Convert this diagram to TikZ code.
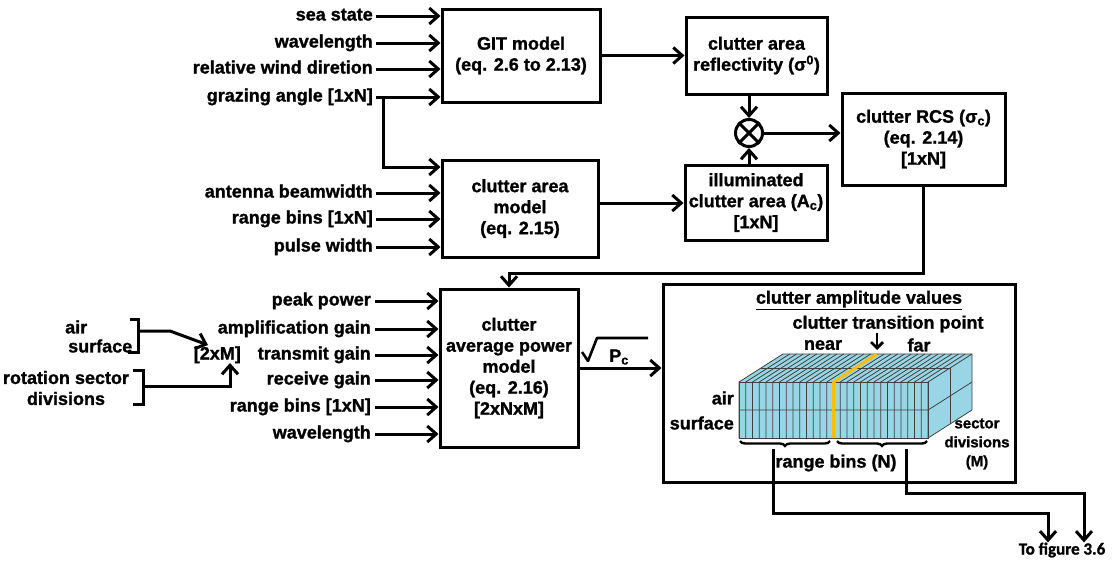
\documentclass[tikz,border=0pt]{standalone}
\usepackage{fontspec}
\setmainfont{Liberation Sans}[BoldFeatures={FakeBold=1.2}]
\newfontfamily\calib{Carlito}[BoldFeatures={FakeBold=1.2}]
\usetikzlibrary{arrows.meta,decorations.pathreplacing}
\definecolor{cubeblue}{RGB}{152,214,230}
\definecolor{transy}{RGB}{255,190,0}
\begin{document}
\begin{tikzpicture}[x=1pt,y=-1pt,
  every node/.style={font=\fontsize{18}{21}\selectfont\bfseries, inner sep=0pt},
  wire/.style={line width=3pt},
  arr/.style={wire,-{Straight Barb[length=9pt,width=16pt]}},
  blk/.style={draw, line width=3pt, align=center},
  inlab/.style={anchor=east, text height=13pt, text depth=4pt},
  gl/.style={draw=black!75, line width=0.8pt},
 ]
\useasboundingbox (0,0) rectangle (1115,563);

% ---------- boxes
\node[blk, minimum width=158pt, minimum height=93pt] (git) at (521,55.5) {GIT model\\(eq. 2.6 to 2.13)};
\node[blk, minimum width=141pt, minimum height=77pt] (refl) at (756.5,55.5) {clutter area\\reflectivity (σ\textsuperscript{0})};
\node[draw, circle, line width=3pt, minimum size=27pt] (mul) at (749,133) {};
\draw[wire] (mul.north west) -- (mul.south east) (mul.north east) -- (mul.south west);
\node[blk, minimum width=142pt, minimum height=75pt] (illum) at (756,202.5) {illuminated\\clutter area (A\textsubscript{c})\\{[1xN]}};
\node[blk, minimum width=156pt, minimum height=97pt] (cam) at (520,208.5) {clutter area\\model\\(eq. 2.15)};
\node[blk, minimum width=163pt, minimum height=92pt] (rcs) at (923.5,139) {clutter RCS (σ\textsubscript{c})\\(eq. 2.14)\\{[1xN]}};
\node[blk, minimum width=138pt, minimum height=158pt] (capm) at (509,368) {clutter\\average power\\model\\(eq. 2.16)\\{[2xNxM]}};
\node[draw, line width=3pt, minimum width=352pt, minimum height=198pt] (amp) at (839,383) {};

% ---------- top inputs
\node[inlab] (i1) at (373,16) {sea state};
\node[inlab] (i2) at (373,43) {wavelength};
\node[inlab] (i3) at (373,69) {relative wind diretion};
\node[inlab] (i4) at (373,97) {grazing angle [1xN]};
\node[inlab] (i5) at (373,193) {antenna beamwidth};
\node[inlab] (i6) at (373,219) {range bins [1xN]};
\node[inlab] (i7) at (373,247) {pulse width};
\foreach \n in {i1,i2,i3,i4} \draw[arr] ([xshift=3pt]\n.east) -- (git.west |- \n.east);
\foreach \n in {i5,i6,i7} \draw[arr] ([xshift=3pt]\n.east) -- (cam.west |- \n.east);
\coordinate (gbr) at (383,97);
\draw[arr] (gbr) |- (cam.west |- 0,167);

% ---------- connections top
\draw[arr] (git.east |- refl.west) -- (refl.west);
\draw[arr] (cam.east |- 0,203) -- (illum.west |- 0,203);
\draw[arr] (mul.north |- refl.south) -- (mul.north);
\draw[arr] (mul.south |- illum.north) -- (mul.south);
\draw[arr] (mul.east) -- (rcs.west |- mul.east);
\draw[arr] (rcs.south) -- ++(0,87) -| (capm.north);

% ---------- bottom inputs
\node[inlab] (j1) at (371,301) {peak power};
\node[inlab] (j2) at (371,329) {amplification gain};
\node[inlab] (j3) at (371,355) {transmit gain};
\node[inlab] (j4) at (371,380) {receive gain};
\node[inlab] (j5) at (371,407) {range bins [1xN]};
\node[inlab] (j6) at (371,434) {wavelength};
\foreach \n in {j1,j2,j3,j4,j5,j6} \draw[arr] ([xshift=4pt]\n.east) -- (capm.west |- \n.east);

\node[inlab] (twoxm) at (241,355) {[2xM]};
\node[anchor=west] (air1) at (65,327) {air};
\node[anchor=west] (surf1) at (68,346) {surface};
\draw[wire] (130,319) -- (138,319) -- (138,352) -- (128,352);
\coordinate (b1) at (138,331);
\coordinate (b1e) at (208,345);
\draw[arr] (b1) -- (170,331) -- (b1e);
\node[align=center] (rot) at (66,388) {rotation sector\\divisions};
\draw[wire] (133,370) -- (143,370) -- (143,404) -- (133,404);
\coordinate (b2) at (143,386);
\coordinate (b2e) at (230,363);
\draw[arr] (b2) -| (b2e);

% ---------- sqrt Pc
\draw[line width=2.6pt, line join=round] (582,352) -- (588,361) -- (597,338) -- (648,338);
\node (pc) at (619,357) {P\textsubscript{c}};
\draw[arr] (capm.east) -- (amp.west |- capm.east);

% ---------- amplitude box content
\node (ampt) at (859,300) {\underline{clutter amplitude values}};
\node (ctp) at (888,324) {clutter transition point};
\coordinate (ctpa) at (877,333);
\coordinate (ctpb) at (877,350);
\draw[line width=2.8pt, -{Straight Barb[length=6pt,width=12pt]}] (ctpa) -- (ctpb);
\node (near) at (823,345) {near};
\node (far) at (919,345) {far};

% block
\fill[cubeblue] (739,382) -- (928,382) -- (928,438) -- (739,438) -- cycle;
\fill[cubeblue] (739,382) -- (783,354) -- (972,354) -- (928,382) -- cycle;
\fill[cubeblue] (928,382) -- (972,354) -- (972,410) -- (928,438) -- cycle;
\foreach \i in {0,...,28} {
  \pgfmathsetmacro\xx{739+\i*189/28}
  \draw[gl] (\xx,438) -- (\xx,382) -- ++(44,-28);
}
\draw[gl] (739,410) -- (928,410) -- (972,382);
\draw[gl] (761,368) -- (950,368) -- (950,424);
\draw[gl] (739,382) -- (928,382) -- (928,438) -- (739,438) -- cycle;
\draw[gl] (783,354) -- (972,354) -- (972,410) -- (928,438);
\draw[transy, line width=3pt] (877,354) -- (833.5,382) -- (833.5,438);

\node[anchor=east] (airb) at (734,398) {air};
\node[anchor=east] (surfb) at (734,423) {surface};
\draw[line width=2.4pt, decorate, decoration={brace, mirror, amplitude=5pt}] (740,441) -- (830,441);
\draw[line width=2.4pt, decorate, decoration={brace, mirror, amplitude=5pt}] (837,441) -- (927,441);
\node (rb) at (836,463) {range bins (N)};
\node[align=center, font=\fontsize{15}{19}\selectfont\bfseries] (sd) at (977,444) {sector\\divisions\\(M)};

% ---------- outputs
\node[font=\calib\fontsize{17}{20}\selectfont\bfseries] (tofig) at (1062,550) {To figure 3.6};
\coordinate (o1) at (773,449);
\coordinate (o2) at (906,449);
\draw[arr] (o1) |- (1048,513) -- (tofig.north -| 1048,0);
\draw[arr] (o2) |- (1084,493) -- (tofig.north -| 1084,0);
\end{tikzpicture}
\end{document}
